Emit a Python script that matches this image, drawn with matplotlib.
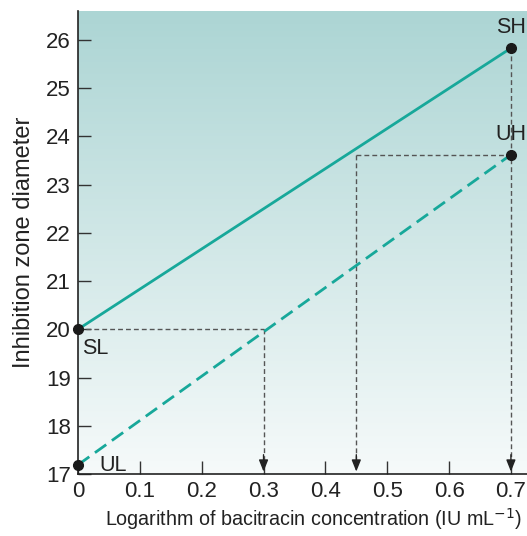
import numpy as np
import matplotlib
matplotlib.use("Agg")
import matplotlib.pyplot as plt
from matplotlib.colors import LinearSegmentedColormap

# Data
x_pts = [0.0, 0.7]
standard = [20.0, 25.83]   # SL, SH
unknown = [17.19, 23.62]   # UL, UH
point_labels = ["SL", "SH", "UL", "UH"]
x_ticks = [0, 0.1, 0.2, 0.3, 0.4, 0.5, 0.6, 0.7]
x_ticklabels = ["0", "0.1", "0.2", "0.3", "0.4", "0.5", "0.6", "0.7"]
y_ticks = [17, 18, 19, 20, 21, 22, 23, 24, 25, 26]
read_low_x = 0.3    # where unknown reaches SL
read_high_x = 0.45  # where standard reaches UH

plt.rcParams['font.family'] = ['Liberation Sans', 'DejaVu Sans']

fig = plt.figure(figsize=(5.27, 5.36), dpi=100)
ax = fig.add_axes([78/527, 62/536, (527-78)/527, (474-11)/536])
xmin, xmax = 0, 0.726
ymin, ymax = 17, 26.6
ax.set_xlim(xmin, xmax)
ax.set_ylim(ymin, ymax)

# gradient background
cmap = LinearSegmentedColormap.from_list("bg", ["#f6fafa", "#acd5d4"])
grad = np.linspace(0, 1, 256).reshape(-1, 1)
ax.imshow(grad, extent=[xmin, xmax, ymin, ymax], origin="lower", aspect="auto",
          cmap=cmap, zorder=0)

teal = "#17a89a"
ax.plot(x_pts, standard, color=teal, lw=2.0, zorder=3, solid_capstyle="butt")
ax.plot(x_pts, unknown, color=teal, lw=2.0, ls=(0, (5, 2.5)), zorder=3)

gray = "#555555"
dash = (0, (3.5, 2.2))
# horizontal guides
ax.plot([x_pts[0], read_low_x], [standard[0], standard[0]], color=gray, lw=1.0, ls=dash, zorder=2)
ax.plot([read_high_x, x_pts[1]], [unknown[1], unknown[1]], color=gray, lw=1.0, ls=dash, zorder=2)

# vertical guides with arrows
for xv, ytop in [(read_low_x, standard[0]), (read_high_x, unknown[1]), (x_pts[1], standard[1])]:
    ax.plot([xv, xv], [ytop, ymin + 0.25], color=gray, lw=1.0, ls=dash, zorder=2)
    ax.annotate("", xy=(xv, ymin + 0.05), xytext=(xv, ymin + 0.4),
                arrowprops=dict(arrowstyle="-|>,head_length=0.7,head_width=0.28",
                                color="#222222", lw=1.0, shrinkA=0, shrinkB=0),
                zorder=4)

# points
ax.plot([x_pts[0], x_pts[1], x_pts[0], x_pts[1]],
        [standard[0], standard[1], unknown[0], unknown[1]],
        'o', color="#1a1a1a", ms=7, zorder=5, clip_on=False)

fs = 15.5
ax.text(x_pts[1], standard[1] + 0.2, point_labels[1], ha="center", va="bottom", fontsize=fs, color="#222222")
ax.text(x_pts[1], unknown[1] + 0.2, point_labels[3], ha="center", va="bottom", fontsize=fs, color="#222222")
ax.text(x_pts[0] + 0.007, standard[0] - 0.18, point_labels[0], ha="left", va="top", fontsize=fs, color="#222222")
ax.text(x_pts[0] + 0.035, unknown[0] - 0.02, point_labels[2], ha="left", va="center", fontsize=fs, color="#222222")

ax.spines['top'].set_visible(False)
ax.spines['right'].set_visible(False)
ax.spines['left'].set_color("#222222")
ax.spines['bottom'].set_color("#222222")
ax.spines['left'].set_linewidth(1.2)
ax.spines['bottom'].set_linewidth(1.2)

ax.set_xticks(x_ticks)
ax.set_xticklabels(x_ticklabels)
ax.set_yticks(y_ticks)
ax.tick_params(direction="in", length=9.5, width=1.0, color="#333333",
               labelsize=16, labelcolor="#222222", pad=5)

ax.set_xlabel("Logarithm of bacitracin concentration (IU mL$^{-1}$)", fontsize=14.2, color="#222222")
ax.xaxis.set_label_coords((314 - 78) / 449, -0.07)
ax.set_ylabel("Inhibition zone diameter", fontsize=17, color="#222222", labelpad=8)

fig.savefig("out.png", dpi=100)
